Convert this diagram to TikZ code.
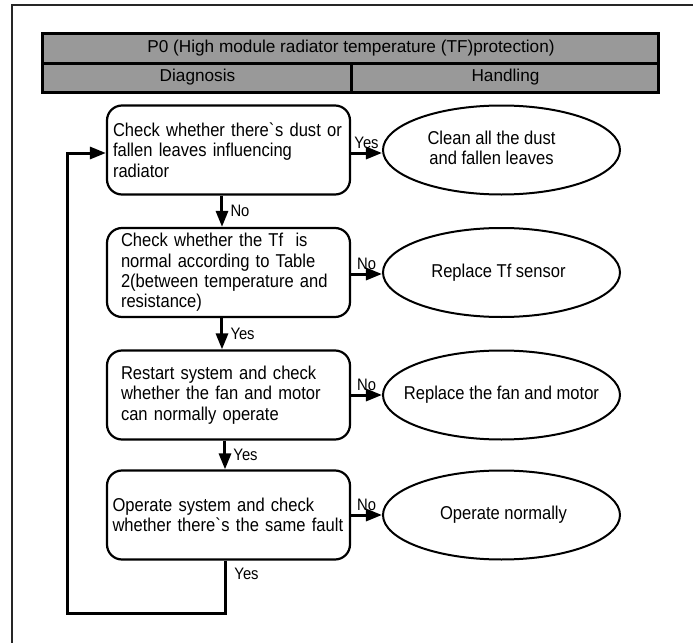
\documentclass[tikz,border=0pt]{standalone}
\usepackage{fontspec}
\setmainfont{Liberation Sans}
\newfontfamily\boxfont[FakeStretch=0.89]{Liberation Sans}
\usetikzlibrary{shapes.geometric,arrows.meta}
\definecolor{headgray}{HTML}{999999}

\begin{document}
\begin{tikzpicture}[x=0.5pt,y=-0.5pt,
  headcell/.style={fill=headgray,draw=black,line width=1.5pt},
  headtext/.style={font=\fontsize{8.6}{10}\selectfont,inner sep=0pt},
  checkbox/.style={draw,rounded corners=7.5pt,line width=1.1pt,minimum width=121.5pt,minimum height=44.5pt,
    text width=#1,align=left,inner xsep=0pt,inner ysep=2pt,font=\boxfont\fontsize{9.3}{10.15}\selectfont},
  handlebox/.style={draw,ellipse,line width=1pt,minimum width=118.5pt,minimum height=44.5pt,inner sep=0pt},
  handletext/.style={align=center,inner sep=0pt,font=\boxfont\fontsize{9.3}{10.15}\selectfont},
  flow/.style={line width=1.5pt,-{Triangle[length=8pt,width=6pt]}},
  tag/.style={font=\boxfont\fontsize{8.3}{9.5}\selectfont,inner sep=1.5pt}]
\useasboundingbox (0,0) rectangle (693,643);
\draw[line width=0.8pt,black!85] (12,643) -- (12,5) -- (693,5);
% table head
\filldraw[headcell] (43,33) rectangle (659,63);
\filldraw[headcell] (43,63) rectangle (352,92);
\filldraw[headcell] (352,63) rectangle (659,92);
\node[headtext] (title) at (351,48) {P0 (High module radiator temperature (TF)protection)};
\node[headtext] (diag) at (197.5,77.5) {Diagnosis};
\node[headtext] (handl) at (505.5,77.5) {Handling};
% diagnosis steps
\node[checkbox=115.5pt] (b1) at (228.5,150) {Check whether there\textasciigrave s dust or\\fallen leaves influencing\\radiator};
\node[checkbox=107.5pt] (b2) at (228.5,272.5) {Check whether the Tf~ is\\normal according to Table\\2(between temperature and\\resistance)};
\node[checkbox=107.5pt] (b3) at (228.5,395) {Restart system and check\\whether the fan and motor\\can normally operate};
\node[checkbox=116pt] (b4) at (228.5,515) {Operate system and check\\whether there\textasciigrave s the same fault};
% handling
\node[handlebox,label={[handletext,xshift=-5pt,yshift=1pt]center:Clean all the dust\\and fallen leaves}] (e1) at (501.5,150) {};
\node[handlebox,label={[handletext,xshift=-1.5pt]center:Replace Tf sensor}] (e2) at (501.5,272.5) {};
\node[handlebox,label={[handletext]center:Replace the fan and motor}] (e3) at (501.5,395) {};
\node[handlebox,label={[handletext,xshift=1pt]center:Operate normally}] (e4) at (501.5,515) {};
% connectors
\draw[flow] ([yshift=-1.5pt]b1.east) -- node[tag,above] {Yes} ([yshift=-1.5pt]b1.east -| e1.west);
\draw[flow] ([yshift=-0.75pt]b2.east) -- node[tag,above] {No} ([yshift=-0.75pt]b2.east -| e2.west);
\draw[flow] (b3.east) -- node[tag,above] {No} (e3.west);
\draw[flow] (b4.east) -- node[tag,above] {No} (e4.west);
\draw[flow] ([xshift=-3.25pt]b1.south) -- node[tag,right,xshift=2pt] {No} ([xshift=-3.25pt]b2.north);
\draw[flow] ([xshift=-3.25pt]b2.south) -- node[tag,right,xshift=2pt] {Yes} ([xshift=-3.25pt]b3.north);
\draw[flow] ([xshift=-1.75pt]b3.south) -- node[tag,right,xshift=2pt] {Yes} ([xshift=-1.75pt]b4.north);
\coordinate (loopcorner) at (68,613);
\draw[flow] ([xshift=-1.25pt]b4.south) |- node[tag,right,pos=0.13,xshift=2pt] {Yes} (loopcorner) |- ([yshift=-1.5pt]b1.west);
\end{tikzpicture}
\end{document}
